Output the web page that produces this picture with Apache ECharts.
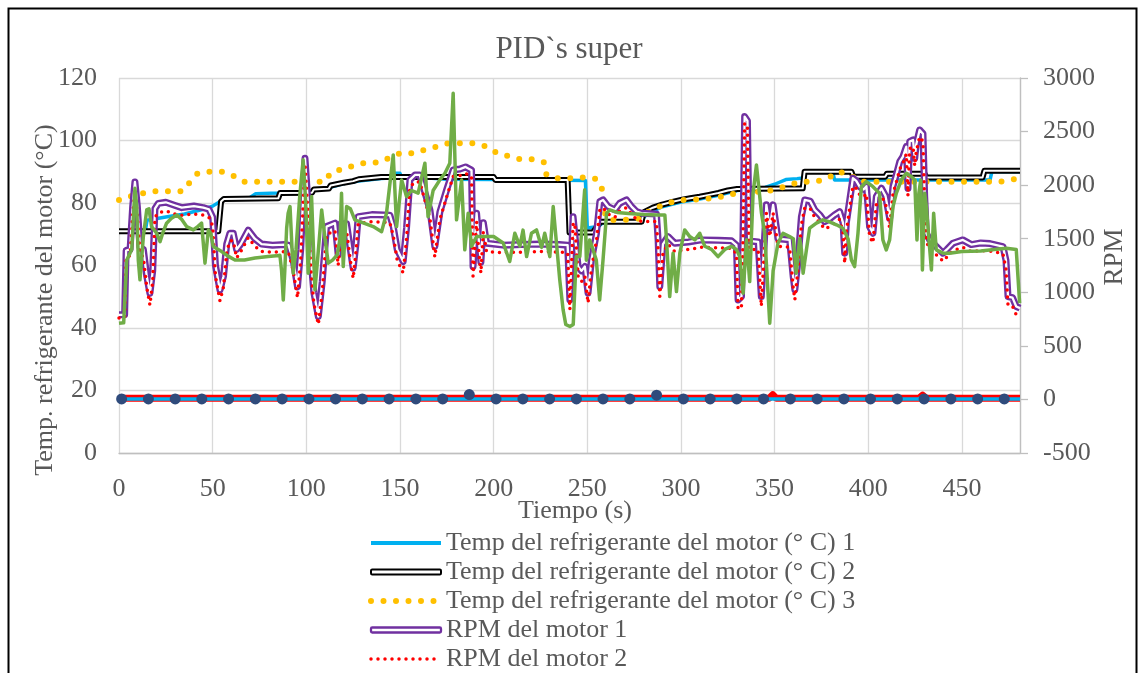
<!DOCTYPE html>
<html><head><meta charset="utf-8">
<script src="https://cdn.jsdelivr.net/npm/echarts@6/dist/echarts.min.js"></script>
<style>html,body{margin:0;padding:0;background:#fff}#c{width:1138px;height:673px}</style>
</head><body><div id="c"></div>
<script>
const titleText = 'PID`s super';
const xName = 'Tiempo (s)';
const yLeftName = 'Temp. refrigerante del motor (°C)';
const yRightName = 'RPM';
const names = ['Temp del refrigerante del motor (° C) 1','Temp del refrigerante del motor (° C) 2','Temp del refrigerante del motor (° C) 3','RPM del motor 1','RPM del motor 2','RPM del motor 3'];

// Temp 1 (cyan)  [time, °C]
const temp1 = [[0,71],[14,71],[15,74.5],[25,75.5],[35,76.5],[45,78],[50,79],[54,80.5],[56,81.5],[70,81.8],[73,83],[85,83.2],[95,83.5],[103,84],[110,84.5],[120,86.2],[128,87],[140,87.8],[145,88],[146,89.5],[150,89.5],[151,88],[165,88],[175,87.6],[200,87.5],[201,87.2],[249,87.2],[250,72],[256,72.5],[259,74],[279,74.5],[282,76.5],[290,78.8],[300,80.3],[310,81.3],[320,82.5],[330,84],[340,84.8],[345,85],[350,86],[356,87.5],[362,87.8],[365,88],[366,90],[381,90],[382,87.4],[465,87.4],[466,90],[481,90]];
// Temp 2 (black)
const temp2 = [[0,71],[53,71],[54.5,80.5],[56,81.3],[85,81.5],[86,83.2],[103,83.3],[104,84.3],[112,84.6],[113,85.6],[120,86.5],[125,87],[128,87.6],[140,88.3],[200,88.3],[201,87.4],[239.5,87.4],[240.5,70.6],[253,70.6],[257,74],[279,74],[280,77],[285,78.5],[290,79.5],[295,80.3],[300,81],[305,81.5],[310,82],[315,82.6],[320,83.2],[325,84],[330,84.5],[365,84.7],[366,90],[391,90],[392,88.4],[409,88.4],[410,89.4],[430,89.4],[431,88.2],[461,88.2],[462,90.3],[481,90.3]];
// Temp 3 (orange dotted)
const temp3 = [[0,81],[5,82],[13,83.1],[20,83.8],[34,83.8],[37.6,86.5],[41.5,89.3],[45,90],[55,90],[61,88.7],[66.5,86.8],[110,86.8],[113,89.7],[119,90.8],[125,91.9],[131.6,92.9],[139,93],[150,95.9],[157,95.9],[163,97],[169.5,98],[175.7,99.1],[190,99.1],[196.5,98],[202,95.9],[208,95],[214,94],[221,94],[227,93],[228.2,89],[234,87.9],[240,87.9],[247,88.2],[254,87.9],[257.6,85.4],[258.5,81],[259.5,76.7],[261,74.6],[270,74.6],[278,75],[281,76.7],[287,78.5],[292,79.7],[299,81],[306,81],[313,81.3],[320,81.8],[326,82.8],[336,83.3],[347,83.9],[353,84.8],[359,86],[365,86.8],[372,86.8],[378.5,87.9],[384,90],[390,89.2],[395.4,86.8],[470,86.8],[478,87.6],[481,87.8]];
// RPM 1 (purple)
const rpm1 = [[0,790],[3,790],[3.8,1390],[5.9,1400],[7.3,1800],[8.5,2030],[9.8,1800],[11.2,1420],[13,1400],[14.8,1150],[16.5,990],[18,1200],[19.2,1780],[21,1830],[25,1840],[30,1810],[33.5,1790],[40,1805],[45,1790],[48,1775],[50,1700],[51.5,1250],[53.9,1020],[55.8,1150],[57.5,1450],[59.2,1550],[61,1550],[62.8,1400],[65,1450],[69,1580],[72.5,1500],[76.1,1450],[82,1440],[88.6,1445],[90.5,1440],[93,1300],[95.3,1050],[97,1400],[99.3,2250],[101,1800],[102.3,1350],[104,1000],[106.4,773],[108.5,1100],[110.8,1613],[115.3,1645],[117,1350],[118.5,1640],[121.5,1640],[123.5,1400],[125,1225],[126.5,1450],[127.7,1706],[135,1725],[144.6,1720],[146.4,1613],[148.5,1400],[151.7,1287],[153.5,1600],[155.3,2049],[158,2095],[160.6,2095],[163,1950],[166,1769],[168.6,1427],[171.3,1750],[174.9,1956],[178.4,2142],[182,2150],[185,2170],[188.2,2140],[189,1240],[190,1500],[190.9,1738],[192,1500],[193.2,1280],[194.5,1650],[196.2,1458],[205,1440],[215,1445],[225,1450],[235,1445],[239.5,1440],[240.7,930],[242.4,1706],[243.3,1722],[245.1,1240],[246.9,1200],[248.7,1240],[250.4,992],[252.2,1300],[254.9,1551],[256.7,1846],[258.4,1862],[261.1,1800],[264.7,1769],[267.3,1831],[270.9,1862],[273.6,1800],[276.3,1753],[278.9,1738],[286.9,1730],[287.8,1489],[288.7,1053],[289.6,1053],[290.4,1450],[293.1,1520],[296.7,1458],[304,1470],[310.9,1489],[320,1485],[327,1480],[329.6,1440],[330.5,929],[332.3,960],[333.1,1520],[334,2640],[335.5,2600],[336.4,1480],[341.2,1470],[342.9,960],[345.6,1816],[347.4,1600],[349.2,1816],[351.8,1500],[358,1489],[359.9,1147],[360.8,1023],[362.5,1300],[364.3,1706],[366.1,1862],[369,1850],[371.4,1769],[374.1,1722],[376.7,1660],[379,1680],[382,1722],[384.7,1753],[386.5,1650],[387.4,1365],[388.3,1650],[390.1,1862],[391.8,2065],[393.6,2040],[395.4,1986],[397.5,1960],[399,1990],[400.7,1613],[402.5,1551],[404.3,1893],[407,1971],[409.2,1900],[411.4,1691],[413.2,1990],[415,2100],[416.8,2219],[418.5,2266],[420.3,2360],[421.2,1971],[422.1,2406],[423.9,2422],[424.8,2250],[425.6,2380],[427.4,2515],[429.2,2480],[430.1,1900],[431,1551],[432.8,1489],[436.3,1427],[439.9,1365],[442,1400],[445.2,1458],[450.5,1489],[455,1445],[460,1460],[465,1455],[471.9,1427],[473.5,1300],[474.6,960],[477,950],[479,867],[481,852]];
// RPM 2 (red dotted)
const rpm2 = [[0,760],[3,760],[3.8,1330],[5.9,1340],[7.3,1720],[8.5,1950],[9.8,1720],[11.2,1360],[13,1330],[14.8,1050],[16.5,880],[18,1100],[19.2,1700],[21,1740],[25,1760],[30,1730],[33.5,1720],[40,1730],[45,1720],[48,1700],[50,1620],[51.5,1150],[53.9,920],[55.8,1050],[57.5,1380],[59.2,1480],[61,1480],[62.8,1320],[65,1380],[69,1510],[72.5,1430],[76.1,1380],[82,1375],[88.6,1380],[90.5,1370],[93,1200],[95.3,950],[97,1300],[99.3,2200],[101,1700],[102.3,1250],[104,900],[106.4,700],[108.5,1000],[110.8,1540],[115.3,1575],[117,1250],[118.5,1570],[121.5,1570],[123.5,1300],[125,1130],[126.5,1380],[127.7,1640],[135,1660],[144.6,1650],[146.4,1530],[148.5,1300],[151.7,1180],[153.5,1500],[155.3,1980],[158,2030],[160.6,2030],[163,1880],[166,1690],[168.6,1330],[171.3,1680],[174.9,1890],[178.4,2080],[182,2090],[185,2110],[188.2,2080],[189,1150],[190,1420],[190.9,1660],[192,1400],[193.2,1180],[194.5,1570],[196.2,1380],[205,1370],[215,1375],[225,1380],[235,1375],[239.5,1370],[240.7,840],[242.4,1630],[243.3,1650],[245.1,1150],[246.9,1100],[248.7,1150],[250.4,900],[252.2,1220],[254.9,1480],[256.7,1770],[258.4,1790],[261.1,1730],[264.7,1700],[267.3,1760],[270.9,1790],[273.6,1730],[276.3,1680],[278.9,1660],[286.9,1660],[287.8,1400],[288.7,960],[289.6,960],[290.4,1370],[293.1,1450],[296.7,1380],[304,1400],[310.9,1420],[320,1415],[327,1410],[329.6,1360],[330.5,840],[332.3,870],[333.1,1450],[334,2580],[335.5,2540],[336.4,1400],[341.2,1400],[342.9,870],[345.6,1740],[347.4,1520],[349.2,1740],[351.8,1430],[358,1420],[359.9,1050],[360.8,930],[362.5,1220],[364.3,1630],[366.1,1790],[369,1780],[371.4,1700],[374.1,1650],[376.7,1590],[379,1610],[382,1650],[384.7,1680],[386.5,1560],[387.4,1270],[388.3,1560],[390.1,1790],[391.8,1990],[393.6,1970],[395.4,1910],[397.5,1890],[399,1920],[400.7,1520],[402.5,1460],[404.3,1820],[407,1900],[409.2,1830],[411.4,1600],[413.2,1920],[415,2030],[416.8,2150],[418.5,2200],[420.3,2290],[421.2,1900],[422.1,2340],[423.9,2360],[424.8,2180],[425.6,2310],[427.4,2450],[429.2,2410],[430.1,1820],[431,1470],[432.8,1410],[436.3,1350],[439.9,1290],[442,1330],[445.2,1390],[450.5,1420],[455,1380],[460,1390],[465,1385],[471.9,1360],[473.5,1220],[474.6,880],[477,870],[479,790],[481,780]];
// RPM 3 (green)
const rpm3 = [[0,710],[2.5,715],[4.1,1300],[6.8,1400],[8.5,1971],[9.5,1800],[10.3,1300],[11.2,1116],[13,1520],[14.8,1769],[16,1780],[17.4,1613],[20.1,1551],[21.9,1473],[23.5,1560],[25.4,1645],[28,1690],[30.8,1722],[33.5,1680],[36.1,1613],[39.7,1582],[42,1613],[44.1,1645],[45.9,1272],[47.7,1582],[49,1551],[50.3,1427],[54.8,1380],[58,1340],[61.9,1302],[67,1302],[72.6,1320],[79.7,1333],[84,1340],[85.9,1345],[86.8,1200],[87.7,929],[88.5,1200],[89.5,1600],[90.3,1738],[91.3,1800],[93,1178],[94.5,1400],[96.5,1900],[98.3,2236],[99.5,1900],[101,1178],[102.8,1893],[104.6,1023],[106,1300],[108.2,1769],[110,1500],[111.7,1272],[114,1300],[116.5,1350],[118,1500],[118.8,1925],[119.7,1240],[121.5,1800],[123.5,1780],[125.9,1676],[130,1650],[135.7,1613],[140.2,1566],[142.8,1738],[146.4,2282],[148.2,1613],[150.9,2049],[153.5,1893],[156.2,1950],[159.7,1925],[163.3,2205],[165,1706],[167.7,1950],[171.3,2049],[174,2111],[176.6,2205],[178.4,2858],[180.2,1676],[182.9,2049],[184.6,1396],[186.4,1738],[188.2,1430],[190.9,1520],[194.4,1520],[200,1520],[205.1,1460],[208.6,1287],[211.3,1551],[214,1430],[215.7,1580],[217.6,1333],[220.2,1551],[222.9,1582],[225.6,1420],[227.3,1551],[230,1333],[231.8,1800],[235.3,1116],[237.1,836],[238.5,700],[240.7,680],[242.5,700],[244.1,1333],[246,1333],[248.6,1956],[249.5,1300],[251.3,1489],[253,1400],[254.8,1302],[256.6,929],[258.4,1302],[260.3,1738],[262,1769],[266,1745],[272,1735],[280,1725],[287.8,1722],[291.4,1722],[292.3,1489],[294,960],[295.8,1365],[297.6,1007],[299.4,1365],[302,1582],[304.7,1520],[307.4,1489],[310,1551],[312.7,1430],[316.3,1400],[319.8,1333],[323.4,1400],[327,1430],[329.6,1400],[331.4,1333],[333.2,992],[335,1490],[336.7,1100],[338.5,1925],[340.3,2189],[343,1738],[344.7,1551],[347.4,712],[349.2,1200],[351.8,1458],[354.5,1551],[358,1520],[360,1500],[361.5,1178],[363.4,1500],[364.3,1400],[365.2,1178],[367,1400],[368.7,1598],[372.3,1645],[375.8,1676],[379,1660],[383,1630],[386.5,1598],[389.2,1500],[391,1302],[392.7,1240],[394.5,1550],[396.3,1986],[399,2033],[402.5,1986],[406,1925],[407.8,1489],[409.6,1396],[411.4,1489],[413.2,1800],[415,1925],[417.7,2049],[420.3,2111],[423,2080],[424.8,2049],[426,1489],[427,1925],[428,2049],[428.9,1209],[430.1,1925],[431,1800],[432.4,1489],[433.7,1209],[434.9,1738],[436.3,1396],[439.9,1365],[443.4,1365],[450,1380],[460,1385],[466,1396],[473.7,1411],[479,1400],[480.8,899]];
// near-zero traces (right axis)
const markerTimes = [1.4,15.7,30,44.2,58.5,72.8,87.1,101.4,115.6,129.9,144.2,158.5,172.8,187,201.3,215.6,229.9,244.2,258.4,272.7,287,301.3,315.6,329.8,344.1,358.4,372.7,387,401.2,415.5,429.8,444.1,458.4,472.6];
const markerVals  = [5,5,5,5,5,5,5,5,5,5,5,5,5,45,5,5,5,5,5,5,40,5,5,5,5,5,5,5,5,5,5,5,5,5];
const flatRed = [[0,10],[347,10],[349,45],[351,10],[427,10],[429,40],[431,10],[481,10]];
const flatCyan = [[0,5],[427,5],[429,34],[431,5],[481,5]];

const FONT = 'Liberation Serif';
const TXT = '#595959';
const chart = echarts.init(document.getElementById('c'), null, {renderer: 'canvas'});
const base = {type: 'line', symbol: 'none', silent: true, animation: false};
const line = (name, data, axis, ls) => Object.assign({}, base, {name, data, yAxisIndex: axis, lineStyle: Object.assign({join: 'round'}, ls)});
const plain = v => String(v);

chart.setOption({
  animation: false,
  backgroundColor: '#fff',
  title: {text: titleText, left: 'center', top: 34, padding: 0,
    textStyle: {fontFamily: FONT, fontSize: 31, fontWeight: 'normal', color: TXT}},
  grid: {left: 119, right: 118, top: 78, bottom: 220},
  legend: {
    orient: 'vertical', left: 368, top: 528.5, height: 200, padding: 0,
    itemWidth: 70, itemHeight: 5, itemGap: 0,
    selectedMode: false,
    textStyle: {fontFamily: FONT, fontSize: 26, color: TXT, lineHeight: 29},
    data: [
      {name: names[0], itemStyle: {opacity: 0}, lineStyle: {width: 4}},
      {name: names[1], icon: 'roundRect', itemStyle: {color: '#fff', borderColor: '#000', borderWidth: 2}},
      {name: names[2], itemStyle: {opacity: 0}, lineStyle: {width: 6}},
      {name: names[3], icon: 'roundRect', itemStyle: {color: '#fff', borderColor: '#7030A0', borderWidth: 2.3}},
      {name: names[4], itemStyle: {opacity: 0}, lineStyle: {width: 3.5}}
    ]
  },
  xAxis: {type: 'value', min: 0, max: 481, interval: 50,
    axisLine: {lineStyle: {color: '#BFBFBF', width: 1.3}}, axisTick: {show: false},
    splitLine: {show: true, lineStyle: {color: '#D9D9D9', width: 1.3}},
    axisLabel: {showMaxLabel: false, margin: 23, formatter: plain, fontFamily: FONT, fontSize: 26, color: TXT}},
  yAxis: [
    {type: 'value', min: 0, max: 120, interval: 20, position: 'left',
      axisLine: {show: false}, axisTick: {show: false},
      splitLine: {show: true, lineStyle: {color: '#D9D9D9', width: 1.3}},
      axisLabel: {margin: 22, formatter: plain, fontFamily: FONT, fontSize: 26, color: TXT}},
    {type: 'value', min: -500, max: 3000, interval: 500, position: 'right',
      axisLine: {show: true, lineStyle: {color: '#BFBFBF', width: 1.3}},
      axisTick: {show: true, length: 8, lineStyle: {color: '#BFBFBF', width: 1.3}},
      splitLine: {show: false},
      axisLabel: {margin: 23, formatter: plain, fontFamily: FONT, fontSize: 26, color: TXT}}
  ],
  graphic: [
    {type: 'rect', shape: {x: 8.5, y: 8.5, width: 1128, height: 700}, style: {fill: 'none', stroke: '#000', lineWidth: 2}, silent: true, z: -10},
    {type: 'text', x: 45, y: 300, rotation: Math.PI / 2, style: {text: yLeftName, fontFamily: FONT, fontSize: 26, fill: TXT, align: 'center', verticalAlign: 'middle'}},
    {type: 'text', x: 1115, y: 257, rotation: Math.PI / 2, style: {text: yRightName, fontFamily: FONT, fontSize: 27, fill: TXT, align: 'center', verticalAlign: 'middle'}},
    {type: 'text', x: 575, y: 511, style: {text: xName, fontFamily: FONT, fontSize: 26, fill: TXT, align: 'center', verticalAlign: 'middle'}}
  ],
  series: [
    line(names[0], temp1, 0, {color: '#00B0F0', width: 3.5}),
    line(names[1], temp2, 0, {color: '#000', width: 6}),
    line('t2inner', temp2, 0, {color: '#fff', width: 2}),
    line(names[2], temp3, 0, {color: '#FFC000', width: 6, type: [0, 12.5], cap: 'round'}),
    line(names[3], rpm1, 1, {color: '#7030A0', width: 7}),
    line('r1inner', rpm1, 1, {color: '#fff', width: 2.3}),
    line(names[4], rpm2, 1, {color: '#FF0000', width: 3.5, type: [0, 7], cap: 'round'}),
    line(names[5], rpm3, 1, {color: '#70AD47', width: 3.5}),
    Object.assign({}, base, {name: 'm', yAxisIndex: 1, symbol: 'circle', symbolSize: 11, showSymbol: true,
      itemStyle: {color: '#2F4B7C'}, lineStyle: {opacity: 0},
      data: markerTimes.map((t, i) => [t, markerVals[i]])}),
    line('fr', flatRed, 1, {color: '#FF0000', width: 7}),
    line('fc', flatCyan, 1, {color: '#00B0F0', width: 3.5})
  ].map(s => Object.assign(s, {itemStyle: Object.assign({color: s.lineStyle && s.lineStyle.color}, s.itemStyle || {})}))
});
</script></body></html>
